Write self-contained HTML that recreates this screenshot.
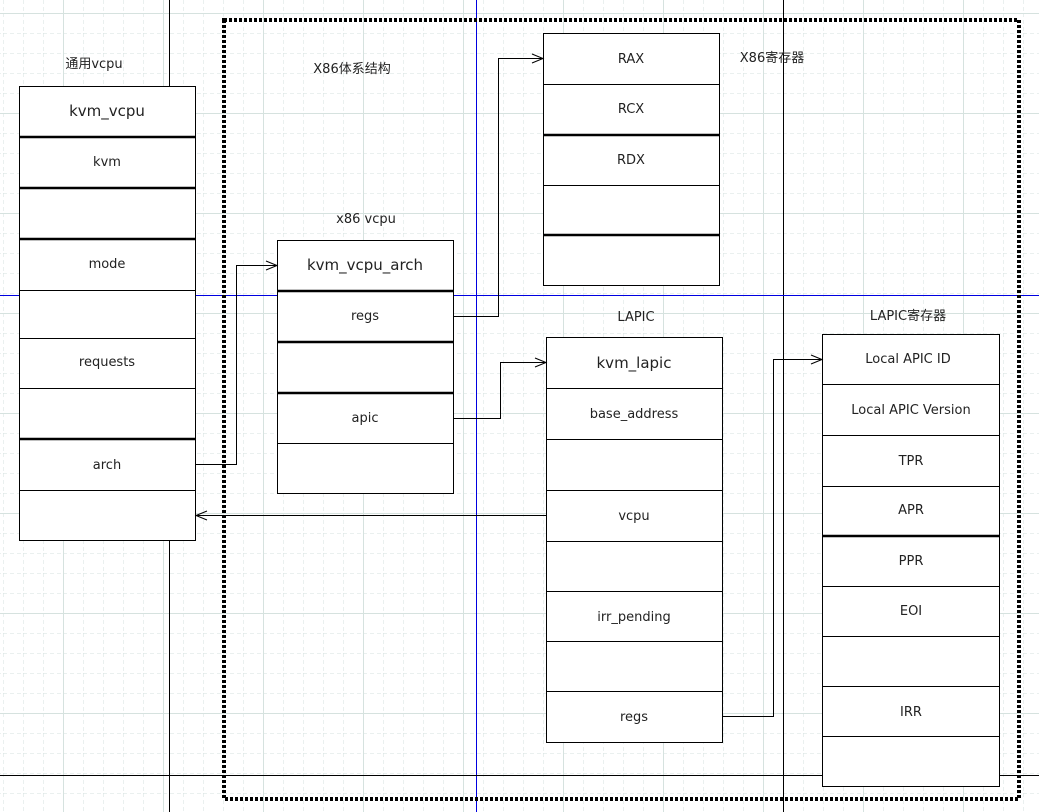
<!DOCTYPE html>
<html><head><meta charset="utf-8"><style>
html,body{margin:0;padding:0;background:#fff}
svg{display:block}
text{font-family:"DejaVu Sans","Liberation Sans","Noto Sans CJK SC",sans-serif;font-size:13px;fill:#222;text-anchor:middle}
.b{font-size:15px}
</style></head><body>
<svg width="1039" height="812" viewBox="0 0 1039 812" xmlns="http://www.w3.org/2000/svg">
<defs>
<pattern id="g" x="3" y="13" width="20" height="20" patternUnits="userSpaceOnUse">
<path d="M0 0V20M0 0H20" stroke="#d6e2df" stroke-width="1" stroke-dasharray="4 3" fill="none"/>
</pattern>
<pattern id="G" x="63" y="13" width="100" height="100" patternUnits="userSpaceOnUse">
<path d="M0.5 0V100M0 0.5H100" stroke="#d6e2df" stroke-width="1" fill="none"/>
</pattern>
</defs>
<rect width="1039" height="812" fill="url(#g)"/>
<rect width="1039" height="812" fill="url(#G)"/>
<g stroke-width="1">
<path d="M169.5 0V812" stroke="#000"/>
<path d="M476.5 0V812" stroke="#0000e0"/>
<path d="M783.5 0V812" stroke="#000"/>
<path d="M0 295.5H1039" stroke="#0000e0"/>
<path d="M0 775.5H1039" stroke="#000"/>
</g>
<rect x="224" y="20" width="795" height="779" fill="none" stroke="#000" stroke-width="4" stroke-dasharray="3 2"/>

<!-- kvm_vcpu -->
<rect x="19.5" y="86.5" width="176" height="454" fill="#fff" stroke="#000"/>
<g stroke="#000" stroke-width="2.5">
<path d="M19 137H195M19 188H195M19 239H195M19 439H195"/>
</g>
<g stroke="#000"><path d="M19 290.5H195M19 338.5H195M19 388.5H195M19 490.5H195"/></g>
<text x="107" y="116" class="b">kvm_vcpu</text>
<text x="107" y="166">kvm</text>
<text x="107" y="268">mode</text>
<text x="107" y="366">requests</text>
<text x="107" y="469">arch</text>
<text x="94" y="68">通用vcpu</text>

<!-- kvm_vcpu_arch -->
<rect x="277.5" y="240.5" width="176" height="253" fill="#fff" stroke="#000"/>
<g stroke="#000" stroke-width="2.5"><path d="M277 291H453M277 342H453M277 393H453"/></g>
<path d="M277 443.5H453" stroke="#000"/>
<text x="365" y="270" class="b">kvm_vcpu_arch</text>
<text x="365" y="320">regs</text>
<text x="365" y="422">apic</text>
<text x="366" y="223">x86 vcpu</text>
<text x="352" y="73">X86体系结构</text>

<!-- RAX -->
<rect x="543.5" y="33.5" width="176" height="252" fill="#fff" stroke="#000"/>
<g stroke="#000" stroke-width="2.5"><path d="M543 135H719M543 235H719"/></g>
<g stroke="#000"><path d="M543 84.5H719M543 185.5H719"/></g>
<text x="631" y="63">RAX</text>
<text x="631" y="113">RCX</text>
<text x="631" y="164">RDX</text>
<text x="772" y="62">X86寄存器</text>

<!-- kvm_lapic -->
<rect x="546.5" y="337.5" width="176" height="405" fill="#fff" stroke="#000"/>
<g stroke="#000"><path d="M546 388.5H722M546 439.5H722M546 490.5H722M546 541.5H722M546 591.5H722M546 641.5H722M546 691.5H722"/></g>
<text x="634" y="368" class="b">kvm_lapic</text>
<text x="634" y="418">base_address</text>
<text x="634" y="520">vcpu</text>
<text x="634" y="621">irr_pending</text>
<text x="634" y="721">regs</text>
<text x="636" y="321">LAPIC</text>

<!-- LAPIC regs -->
<rect x="822.5" y="334.5" width="177" height="452" fill="#fff" stroke="#000"/>
<g stroke="#000" stroke-width="2.5"><path d="M822 536H999"/></g>
<g stroke="#000"><path d="M822 384.5H999M822 435.5H999M822 486.5H999M822 586.5H999M822 636.5H999M822 686.5H999M822 736.5H999"/></g>
<text x="908" y="363">Local APIC ID</text>
<text x="911" y="414">Local APIC Version</text>
<text x="911" y="465">TPR</text>
<text x="911" y="514">APR</text>
<text x="911" y="565">PPR</text>
<text x="911" y="615">EOI</text>
<text x="911" y="716">IRR</text>
<text x="908" y="320">LAPIC寄存器</text>

<!-- connectors -->
<g fill="none" stroke="#000" stroke-width="1">
<path d="M195 464.5H236.5V265.5H277"/>
<path d="M266 261L277 265.5L266 270"/>
<path d="M453 316.5H498.5V58.5H543"/>
<path d="M532 54L543 58.5L532 63"/>
<path d="M453 418.5H500.5V362.5H546"/>
<path d="M535 358L546 362.5L535 367"/>
<path d="M546 515.5H196"/>
<path d="M207 511L196 515.5L207 520"/>
<path d="M722 716.5H773.5V359.5H822"/>
<path d="M811 355L822 359.5L811 364"/>
</g>
</svg>
</body></html>
